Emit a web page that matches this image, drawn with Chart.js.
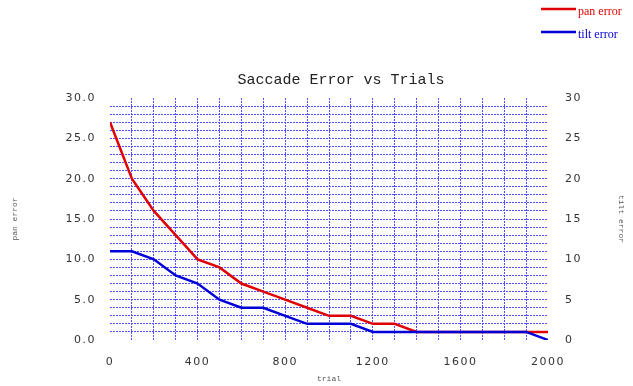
<!DOCTYPE html>
<html><head><meta charset="utf-8">
<script src="https://cdn.jsdelivr.net/npm/chart.js@4"></script>
<style>html,body{margin:0;padding:0;background:#fff}#wrap{width:633px;height:386px}</style>
</head><body><div id="wrap"><canvas id="c" width="633" height="386"></canvas></div>
<script>
const chartTitle = 'Saccade Error vs Trials';
const xTitle = 'trial';
const yLeftTitle = 'pan error';
const yRightTitle = 'tilt error';
const seriesNames = ['pan error', 'tilt error'];
const trials = [0,100,200,300,400,500,600,700,800,900,1000,1100,1200,1300,1400,1500,1600,1700,1800,1900,2000];
const panError = [27,20,16,13,10,9,7,6,5,4,3,3,2,2,1,1,1,1,1,1,1];
const tiltError = [11,11,10,8,7,5,4,4,3,2,2,2,1,1,1,1,1,1,1,1,0];
const xTickLabels = [0,400,800,1200,1600,2000];
const yTickLabels = [0,5,10,15,20,25,30];

const RED = 'rgb(225,0,0)';
const BLUE = 'rgb(0,0,215)';
const GRID = 'rgb(80,80,255)';
const TICKFONT = {family:'DejaVu Sans', size:11};

const textPlugin = {
  id: 'texts',
  beforeDraw(chart){ chart.ctx.letterSpacing = '1.5px'; },
  afterDraw(chart){
    const ctx = chart.ctx, ca = chart.chartArea;
    ctx.save();
    ctx.letterSpacing = '0px';
    ctx.font = '15px "Liberation Mono"';
    ctx.fillStyle = '#222';
    ctx.textAlign = 'center';
    ctx.textBaseline = 'middle';
    ctx.fillText(chartTitle, (ca.left + ca.right) / 2 + 12, 80);
    chart.data.datasets.forEach((ds, i) => {
      const y = 9 + 23 * i;
      ctx.strokeStyle = ds.borderColor;
      ctx.lineWidth = 2.5;
      ctx.beginPath(); ctx.moveTo(541, y); ctx.lineTo(576, y); ctx.stroke();
      ctx.font = '12px "Liberation Serif"';
      ctx.fillStyle = ds.borderColor;
      ctx.textAlign = 'left';
      ctx.textBaseline = 'middle';
      ctx.fillText(ds.label, 578, y + 3);
    });
    const cy = (ca.top + ca.bottom) / 2;
    ctx.font = '8px "Liberation Mono"';
    ctx.fillStyle = '#555';
    ctx.textAlign = 'center';
    ctx.textBaseline = 'middle';
    ctx.fillText(xTitle, (ca.left + ca.right) / 2, 379);
    ctx.save(); ctx.translate(15, cy); ctx.rotate(-Math.PI/2); ctx.fillText(yLeftTitle, 0, 0); ctx.restore();
    ctx.save(); ctx.translate(621, cy); ctx.rotate(Math.PI/2); ctx.fillText(yRightTitle, 0, 0); ctx.restore();
    ctx.restore();
  }
};

const gridColor = (lo, hi) => (c) => (c.tick && (c.tick.value === lo || c.tick.value === hi)) ? 'rgba(0,0,0,0)' : GRID;

new Chart(document.getElementById('c'), {
  type: 'line',
  data: {
    datasets: [
      {label: seriesNames[0], data: trials.map((t, i) => ({x: t, y: panError[i]})), borderColor: RED, backgroundColor: RED, borderWidth: 2.5, pointRadius: 0, tension: 0, yAxisID: 'y', order: 1},
      {label: seriesNames[1], data: trials.map((t, i) => ({x: t, y: tiltError[i]})), borderColor: BLUE, backgroundColor: BLUE, borderWidth: 2.5, pointRadius: 0, tension: 0, yAxisID: 'y2', order: 0}
    ]
  },
  options: {
    responsive: false,
    animation: false,
    devicePixelRatio: 1,
    layout: {padding: {top: 98, left: 0, right: 0, bottom: 0}},
    plugins: {legend: {display: false}, title: {display: false}, tooltip: {enabled: false}},
    scales: {
      x: {
        type: 'linear', min: 0, max: 2000,
        ticks: {stepSize: 100, autoSkip: false, maxRotation: 0, padding: 16, font: TICKFONT, color: '#333',
          callback: v => xTickLabels.includes(v) ? String(v) : ''},
        grid: {color: gridColor(0, 2000), lineWidth: 1, drawTicks: false},
        border: {display: false, dash: [2, 1]},
        afterFit: s => { s.height = 46; }
      },
      y: {
        position: 'left', min: 0, max: 30,
        ticks: {stepSize: 1, autoSkip: false, padding: 14, font: TICKFONT, color: '#333',
          callback: v => yTickLabels.includes(v) ? v.toFixed(1) : ''},
        grid: {color: gridColor(0, 30), lineWidth: 1, drawTicks: false},
        border: {display: false, dash: [2, 1]},
        afterFit: s => { s.width = 110; }
      },
      y2: {
        position: 'right', min: 0, max: 30,
        ticks: {stepSize: 1, autoSkip: false, padding: 17, font: TICKFONT, color: '#333',
          callback: v => yTickLabels.includes(v) ? String(v) : ''},
        grid: {drawOnChartArea: false, drawTicks: false},
        border: {display: false},
        afterFit: s => { s.width = 85; }
      }
    }
  },
  plugins: [textPlugin]
});
</script>
</body></html>
